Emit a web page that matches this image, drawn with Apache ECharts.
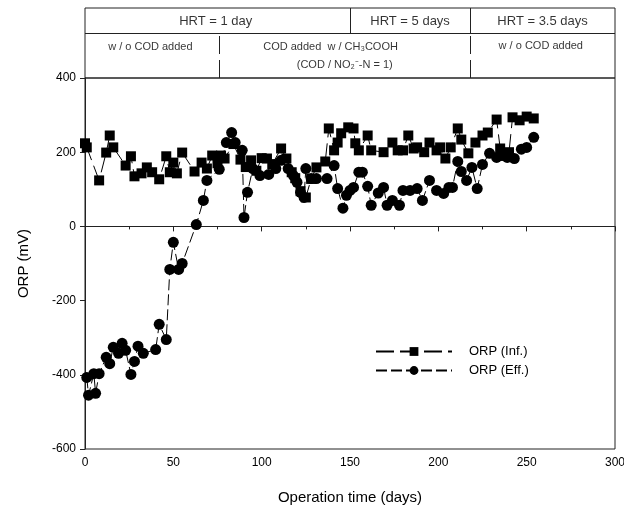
<!DOCTYPE html>
<html>
<head>
<meta charset="utf-8">
<title>ORP</title>
<script src="https://cdn.jsdelivr.net/npm/echarts@6/dist/echarts.min.js"></script>
<style>
  html, body { margin: 0; padding: 0; background: #fff; }
  #main { width: 624px; height: 512px; }
</style>
</head>
<body>
<div id="main"></div>
<script>
// ORP of influent (squares), [day, mV]
var orpInf = [
  [0,224],[1,213],[8,124],[12,199],[14,245],[16,213],[23,164],[26,189],[28,135],[32,143],
  [35,159],[38,146],[42,127],[46,189],[48,146],[50,172],[52,143],[55,199],[62,148],[66,172],
  [69,156],[72,191],[75,170],[77,191],[79,183],[84,222],[88,180],[91,160],[94,178],[97,150],
  [100,184],[103,183],[106,168],[111,210],[114,183],[117,146],[119,130],[122,95],[125,78],[128,128],
  [131,159],[136,175],[138,264],[141,205],[143,226],[145,251],[149,267],[152,264],[153,224],[155,205],
  [160,245],[162,205],[169,200],[174,226],[177,205],[180,205],[183,245],[186,210],[188,213],[192,200],
  [195,226],[199,205],[201,213],[204,183],[207,213],[211,264],[213,234],[217,197],[221,226],[225,245],
  [228,253],[233,288],[235,210],[240,200],[242,294],[246,286],[250,296],[254,291]
];
// ORP of effluent (circles), [day, mV]
var orpEff = [
  [1,-407],[2,-455],[5,-397],[6,-450],[8,-397],[12,-353],[14,-370],[16,-326],[19,-342],[21,-315],
  [23,-334],[26,-399],[28,-364],[30,-323],[33,-342],[40,-332],[42,-264],[46,-305],[48,-116],[50,-43],
  [53,-116],[55,-100],[63,5],[67,70],[69,124],[76,154],[80,226],[83,253],[85,226],[89,205],
  [90,24],[92,92],[95,156],[99,137],[104,140],[108,156],[111,178],[115,156],[118,137],[120,119],
  [122,92],[124,78],[125,156],[128,129],[131,129],[137,129],[141,164],[143,102],[146,49],[148,84],
  [150,97],[152,105],[155,146],[157,146],[160,108],[162,57],[166,90],[169,105],[171,57],[174,70],
  [178,57],[180,97],[184,97],[188,102],[191,70],[195,124],[199,97],[203,89],[206,105],[208,105],
  [211,175],[213,148],[216,124],[219,159],[222,102],[225,167],[229,197],[233,186],[236,191],[239,186],
  [243,183],[247,208],[250,213],[254,240]
];
var yTicks = [-600, -400, -200, 0, 200, 400];

// header table (days on x, px-from-bottom on y)
var hrtLabels = [
  [74, 57, 'HRT = 1 day'],
  [184, 57, 'HRT = 5 days'],
  [259, 57, 'HRT = 3.5 days']
];
var codLabels = [
  [37, 31, 'w / o COD added'],
  [139, 31, 'COD added  w / CH\u2083COOH'],
  [147, 13, '(COD / NO\u2082\u207B-N = 1)'],
  [258, 32, 'w / o COD added']
];

var font = '"Liberation Sans", Arial, Helvetica, sans-serif';
var chart = echarts.init(document.getElementById('main'));

chart.setOption({
  animation: false,
  textStyle: { fontFamily: font, color: '#000' },
  grid: [
    { left: 85, right: 9, top: 78, bottom: 63, show: true, borderColor: '#222', borderWidth: 1,
      containLabel: false, outerBoundsMode: 'none' },
    { left: 85, right: 9, top: 8, height: 70, show: true, borderColor: '#222', borderWidth: 1,
      containLabel: false, outerBoundsMode: 'none' }
  ],
  legend: {
    orient: 'vertical',
    left: 370,
    top: 340,
    itemWidth: 76,
    itemHeight: 11,
    itemGap: 6,
    data: ['ORP (Inf.)', 'ORP (Eff.)'],
    textStyle: { fontSize: 13, color: '#000', fontFamily: font, padding: [0, 0, 0, 12] }
  },
  xAxis: [
    {
      type: 'value', gridIndex: 0, min: 0, max: 300, interval: 50,
      name: 'Operation time (days)', nameLocation: 'middle', nameGap: 41,
      nameTextStyle: { fontSize: 15, color: '#000' },
      axisLine: { lineStyle: { color: '#222', width: 1 } },
      axisTick: { inside: false, length: 5, lineStyle: { color: '#222' } },
      minorTick: { show: true, splitNumber: 2, length: 3, lineStyle: { color: '#222' } },
      axisLabel: { fontSize: 12, color: '#000', margin: 8 },
      splitLine: { show: false }
    },
    {
      type: 'value', gridIndex: 1, min: 0, max: 300,
      show: false, splitLine: { show: false }
    }
  ],
  yAxis: [
    {
      type: 'value', gridIndex: 0, min: -600, max: 400, interval: 200,
      name: 'ORP (mV)', nameLocation: 'middle', nameGap: 54,
      nameTextStyle: { fontSize: 15, color: '#000' },
      axisLine: { show: true, lineStyle: { color: '#222', width: 1 } },
      axisTick: { show: true, inside: false, length: 5, lineStyle: { color: '#222' } },
      axisLabel: { fontSize: 12, color: '#000', margin: 9,
        formatter: function (v) { return yTicks.indexOf(v) >= 0 ? String(v) : ''; } },
      splitLine: { show: false }
    },
    {
      type: 'value', gridIndex: 1, min: 0, max: 70,
      show: false, splitLine: { show: false }
    }
  ],
  series: [
    {
      name: 'ORP (Eff.)',
      type: 'line',
      xAxisIndex: 0, yAxisIndex: 0,
      data: orpEff,
      symbol: 'circle',
      symbolSize: 11,
      showAllSymbol: true,
      itemStyle: { color: '#000' },
      lineStyle: { color: '#000', width: 1, type: [11, 4] }
    },
    {
      name: 'ORP (Inf.)',
      type: 'line',
      xAxisIndex: 0, yAxisIndex: 0,
      data: orpInf,
      symbol: 'rect',
      symbolSize: 10,
      showAllSymbol: true,
      itemStyle: { color: '#000' },
      lineStyle: { color: '#000', width: 1, type: [18, 6] }
    },
    // header table lines + text
    {
      type: 'scatter',
      xAxisIndex: 1, yAxisIndex: 1,
      symbolSize: 0,
      silent: true,
      data: hrtLabels,
      label: { show: true, position: 'inside', fontSize: 13, color: '#000', fontFamily: font,
        formatter: function (p) { return p.data[2]; } },
      markLine: {
        symbol: 'none', silent: true, label: { show: false },
        lineStyle: { color: '#222', width: 1, type: 'solid' },
        data: [
          [{ coord: [0, 45] }, { coord: [300, 45] }],
          [{ coord: [150, 45] }, { coord: [150, 70] }],
          [{ coord: [218, 45] }, { coord: [218, 70] }]
        ]
      }
    },
    {
      type: 'scatter',
      xAxisIndex: 1, yAxisIndex: 1,
      symbolSize: 0,
      silent: true,
      data: codLabels,
      label: { show: true, position: 'inside', fontSize: 11, color: '#000', fontFamily: font,
        formatter: function (p) { return p.data[2]; } },
      markLine: {
        symbol: 'none', silent: true, label: { show: false },
        lineStyle: { color: '#222', width: 1, type: [18, 6] },
        data: [
          [{ coord: [76, 0] }, { coord: [76, 45] }],
          [{ coord: [218, 0] }, { coord: [218, 45] }]
        ]
      }
    }
  ]
});
</script>
</body>
</html>
